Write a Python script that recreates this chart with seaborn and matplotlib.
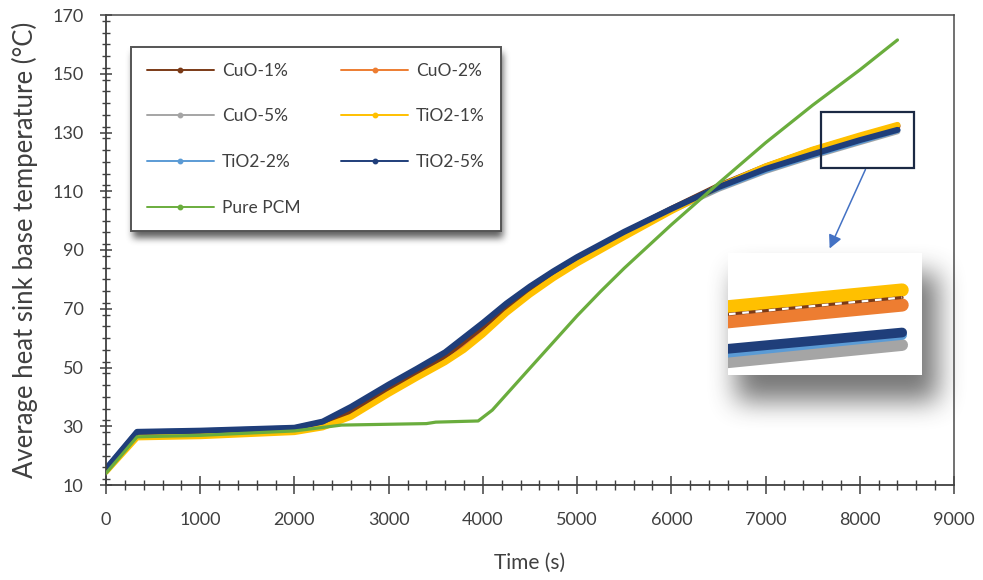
import numpy as np
import pandas as pd
import matplotlib
matplotlib.use("Agg")
import matplotlib.pyplot as plt
import seaborn as sns
from matplotlib.lines import Line2D
from matplotlib.patches import Rectangle
from matplotlib.ticker import MultipleLocator

# ---- data -------------------------------------------------------------
time_s = [0, 330, 1000, 2000, 2300, 2600, 3000, 3300, 3600, 3800, 4000,
          4250, 4500, 4750, 5000, 5500, 6000, 6500, 7000, 7500, 8000, 8400]

cuo_1 = [15.0, 27.6, 28.0, 29.0, 30.8, 35.2, 43.0, 48.4, 54.0, 59.0, 64.0,
         70.8, 76.8, 82.2, 87.0, 95.8, 104.0, 111.8, 118.4, 124.0, 128.7, 132.3]
cuo_2 = [14.8, 27.2, 27.6, 28.8, 30.5, 34.6, 42.4, 47.8, 53.4, 58.3, 63.2,
         70.2, 76.2, 81.6, 86.5, 95.4, 103.7, 111.6, 118.1, 123.7, 128.4, 132.0]
cuo_5 = [15.2, 27.8, 28.2, 29.2, 31.2, 36.0, 43.6, 49.0, 54.6, 59.6, 64.6,
         71.2, 77.0, 82.2, 87.0, 95.4, 103.4, 110.8, 116.9, 122.0, 126.7, 130.4]
tio2_1 = [14.5, 26.2, 26.6, 28.0, 29.6, 33.2, 41.0, 46.5, 51.8, 56.0, 61.2,
          68.5, 74.8, 80.4, 85.4, 94.4, 103.2, 111.5, 118.5, 124.2, 129.0, 132.6]
tio2_2 = [15.3, 27.9, 28.3, 29.3, 31.3, 36.2, 43.8, 49.2, 54.9, 59.9, 64.9,
          71.5, 77.3, 82.5, 87.3, 95.8, 103.7, 111.1, 117.2, 122.3, 127.0, 130.8]
tio2_5 = [15.5, 28.1, 28.5, 29.5, 31.6, 36.6, 44.2, 49.6, 55.2, 60.2, 65.2,
          71.8, 77.6, 82.8, 87.6, 96.2, 104.0, 111.4, 117.6, 122.6, 127.4, 130.9]

time_pcm = [0, 330, 1000, 2000, 2500, 3400, 3500, 3950, 4100, 4500,
            5000, 5250, 5500, 6000, 6500, 7000, 7500, 8000, 8400]
pure_pcm = [14.0, 26.4, 26.9, 28.4, 30.4, 30.9, 31.4, 31.8, 35.5, 49.8,
            67.6, 75.9, 83.8, 98.6, 112.7, 126.5, 139.3, 151.3, 161.5]

x_ticks = list(range(0, 9001, 1000))
y_ticks = list(range(10, 171, 20))

labels = ["CuO-1%", "CuO-2%", "CuO-5%", "TiO2-1%", "TiO2-2%", "TiO2-5%", "Pure PCM"]
colors = {
    "CuO-1%": "#7B3A17",
    "CuO-2%": "#ED7D31",
    "CuO-5%": "#A5A5A5",
    "TiO2-1%": "#FFC000",
    "TiO2-2%": "#5B9BD5",
    "TiO2-5%": "#1F3E7A",
    "Pure PCM": "#6AAD3D",
}

nano = pd.DataFrame({
    "time": time_s * 6,
    "temp": cuo_1 + cuo_2 + cuo_5 + tio2_1 + tio2_2 + tio2_5,
    "case": sum([[n] * len(time_s) for n in labels[:6]], []),
})
pcm = pd.DataFrame({"time": time_pcm, "temp": pure_pcm, "case": "Pure PCM"})

# ---- figure -----------------------------------------------------------
sns.set_theme(style="white")
plt.rcParams["font.family"] = ["Lato", "DejaVu Sans"]
plt.rcParams.update({
    "xtick.bottom": True, "ytick.left": True,
    "xtick.minor.visible": True, "ytick.minor.visible": True,
    "xtick.direction": "inout", "ytick.direction": "inout",
})

W, H = 983, 580
fig = plt.figure(figsize=(W / 100, H / 100), dpi=100)
ax = fig.add_axes([106 / W, 1 - 485 / H, (954 - 106) / W, (485 - 15) / H])

draw_order = ["CuO-5%", "TiO2-2%", "CuO-2%", "CuO-1%", "TiO2-1%", "TiO2-5%"]
for z, name in enumerate(draw_order):
    sub = nano[nano["case"] == name]
    sns.lineplot(data=sub, x="time", y="temp", ax=ax, color=colors[name],
                 lw=4.3, legend=False, sort=False, estimator=None,
                 zorder=2 + z * 0.1)
sns.lineplot(data=pcm, x="time", y="temp", ax=ax, color=colors["Pure PCM"],
             lw=2.3, legend=False, sort=False, estimator=None, zorder=3)

ax.set_xlim(0, 9000)
ax.set_ylim(10, 170)
ax.set_xticks(x_ticks)
ax.set_yticks(y_ticks)
ax.xaxis.set_minor_locator(MultipleLocator(200))
ax.yaxis.set_minor_locator(MultipleLocator(4))
txt = "#404040"
ax.tick_params(axis="both", which="both", bottom=True, left=True,
               direction="inout", color=txt, width=1.1, labelcolor=txt,
               labelsize=13)
ax.tick_params(axis="x", which="major", length=13, pad=13)
ax.tick_params(axis="x", which="minor", length=7.5, width=1.0)
ax.tick_params(axis="y", which="major", length=8.5, pad=12)
ax.tick_params(axis="y", which="minor", length=5.5, width=1.0)
for side in ["left", "bottom"]:
    ax.spines[side].set_color(txt)
    ax.spines[side].set_linewidth(1.3)
for side in ["top", "right"]:
    ax.spines[side].set_color("#4a4a4a")
    ax.spines[side].set_linewidth(1.1)

ax.set_xlabel("Time (s)", fontsize=15, color=txt, labelpad=18)
ax.set_ylabel("Average heat sink base temperature (°C)", fontsize=18.5,
              color=txt, labelpad=10)

# zoom frame and pointer to the magnified view
ax.add_patch(Rectangle((7590, 117.8), 985, 19.2, fill=False,
                       edgecolor="#1B2944", lw=1.6, zorder=4))
ax.annotate("", xy=(7680, 90.5), xytext=(8060, 117.4),
            arrowprops=dict(arrowstyle="-|>", color="#4472C4", lw=1.1,
                            mutation_scale=20, shrinkA=0, shrinkB=0))

# ---- overlay for legend and soft shadows ------------------------------
ov = fig.add_axes([0, 0, 1, 1], zorder=3)
ov.set_axis_off()
ov.set_xlim(0, W)
ov.set_ylim(H, 0)

handles = {n: Line2D([], [], color=colors[n], lw=1.4, marker="o", ms=3.2)
           for n in labels}
leg_order = ["CuO-1%", "CuO-5%", "TiO2-2%", "Pure PCM",
             "CuO-2%", "TiO2-1%", "TiO2-5%"]
leg = ov.legend([handles[n] for n in leg_order], leg_order, ncol=2,
                loc="upper left", bbox_to_anchor=(131 / W, 1 - 47 / H),
                bbox_transform=fig.transFigure, frameon=True, fancybox=False,
                edgecolor="#555555", framealpha=1, fontsize=12.5,
                handlelength=3.9, handletextpad=0.45, labelspacing=1.71,
                columnspacing=2.3, borderpad=0.9, borderaxespad=0,
                labelcolor=txt)
leg.get_frame().set_linewidth(1.4)

# magnified view of the curve ends
ix0, iy0, iw, ih = 728, 253, 194, 122
iax = fig.add_axes([ix0 / W, 1 - (iy0 + ih) / H, iw / W, ih / H], zorder=5)
iax.set_facecolor("white")
for s in iax.spines.values():
    s.set_visible(False)
iax.tick_params(which="both", bottom=False, left=False,
                labelbottom=False, labelleft=False)
inset_style = [("CuO-5%", 8.5), ("TiO2-2%", 7.0), ("TiO2-5%", 7.0),
               ("CuO-2%", 9.5), ("TiO2-1%", 9.5)]
for name, lw in inset_style:
    sub = nano[nano["case"] == name]
    sns.lineplot(data=sub, x="time", y="temp", ax=iax, color=colors[name],
                 lw=lw, legend=False, sort=False, estimator=None,
                 solid_capstyle="round")
sub = nano[nano["case"] == "CuO-1%"]
sns.lineplot(data=sub, x="time", y="temp", ax=iax, color=colors["CuO-1%"],
             lw=2.2, legend=False, sort=False, estimator=None)
iax.plot(sub["time"], sub["temp"], color="white", lw=1.6, ls=(0, (3, 3)))
iax.set_xlim(8325.5, 8408.5)
iax.set_ylim(129.2, 134.08)
iax.set_xlabel("")
iax.set_ylabel("")
iax.minorticks_off()

# ---- blurred drop shadows --------------------------------------------
fig.canvas.draw()


def blur1d(a, r, axis):
    pad = [(r + 1, r) if i == axis else (0, 0) for i in range(2)]
    c = np.cumsum(np.pad(a, pad), axis=axis)
    if axis == 0:
        return (c[2 * r + 1:] - c[:-2 * r - 1]) / (2 * r + 1)
    return (c[:, 2 * r + 1:] - c[:, :-2 * r - 1]) / (2 * r + 1)


def soft_box(x0, y0, x1, y1, r):
    m = np.zeros((H, W))
    m[max(int(y0), 0):min(int(y1), H), max(int(x0), 0):min(int(x1), W)] = 1
    for _ in range(3):
        m = blur1d(m, r, 0)
        m = blur1d(m, r, 1)
    return m


lb = leg.get_window_extent()
lx0, lx1 = lb.x0, lb.x1
ly0, ly1 = H - lb.y1, H - lb.y0
shade = 0.8 * soft_box(lx0 + 2, ly0 + 6, lx1 + 3, ly1 + 7, 3)
shade = np.maximum(shade, 0.68 * soft_box(ix0 + 8, iy0 + 20, ix0 + iw + 16,
                                           iy0 + ih + 26, 12))
rgba = np.zeros((H, W, 4))
rgba[..., :3] = 0.22
rgba[..., 3] = np.clip(shade, 0, 1)
ov.imshow(rgba, extent=[0, W, H, 0], aspect="auto", zorder=0,
          interpolation="bilinear")
ov.set_xlim(0, W)
ov.set_ylim(H, 0)

fig.savefig("out.png", dpi=100)
